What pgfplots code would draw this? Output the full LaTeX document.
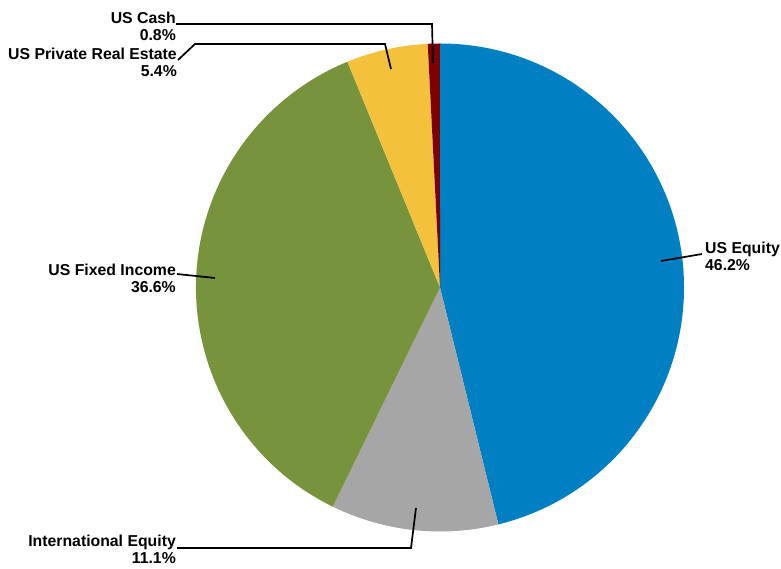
\documentclass[border=0pt]{standalone}
\usepackage{fontspec}
\setmainfont{Liberation Sans}
\usepackage{pgfplots}
\usepackage{pgfplotstable}
\pgfplotsset{compat=1.18}

\definecolor{slice0}{HTML}{0080C3} % US Equity
\definecolor{slice1}{HTML}{A6A6A6} % International Equity
\definecolor{slice2}{HTML}{77933C} % US Fixed Income
\definecolor{slice3}{HTML}{F3C13B} % US Private Real Estate
\definecolor{slice4}{HTML}{7F0000} % US Cash

\pgfplotstableread[col sep=comma]{
name,value
US Equity,46.2
International Equity,11.1
US Fixed Income,36.6
US Private Real Estate,5.4
US Cash,0.8
}\shares

\begin{document}
\begin{tikzpicture}[lab/.style={font=\fontsize{15.8bp}{17bp}\selectfont\bfseries, inner sep=0pt}]
% total and slice angles (clockwise from the top)
\def\total{0}
\pgfplotsforeachungrouped \i in {0,...,4}{%
  \pgfplotstablegetelem{\i}{value}\of\shares
  \pgfmathsetmacro\total{\total+\pgfplotsretval}%
}
\def\cur{90}
\pgfplotsforeachungrouped \i in {0,...,4}{%
  \pgfplotstablegetelem{\i}{value}\of\shares
  \pgfmathsetmacro\nxt{\cur-\pgfplotsretval/\total*360}%
  \expandafter\xdef\csname sA\i\endcsname{\cur}%
  \expandafter\xdef\csname eA\i\endcsname{\nxt}%
  \let\cur\nxt
}
\begin{axis}[
    width=781bp, height=569bp, scale only axis,
    xmin=0, xmax=781, ymin=0, ymax=569,
    hide axis, clip=false,
  ]
  \pgfplotsinvokeforeach{0,...,4}{
    \fill[slice#1] (axis cs:440,281.5) -- ++(\csname sA#1\endcsname:244bp)
      arc[start angle=\csname sA#1\endcsname, end angle=\csname eA#1\endcsname, radius=244bp] -- cycle;
  }
  % leader lines
  \addplot[black, line width=1.7bp, mark=none] coordinates {(661,308) (702,315)};
  \addplot[black, line width=1.7bp, mark=none] coordinates {(177,295) (215,291)};
  \addplot[black, line width=1.7bp, mark=none] coordinates {(177,21) (411,21) (416,61)};
  \addplot[black, line width=1.7bp, mark=none] coordinates {(176,545) (432,545) (433,506)};
  \addplot[black, line width=1.7bp, mark=none] coordinates {(178,509) (195,525) (385,525) (391,500)};
  % labels
  \node[lab, anchor=north west, align=left]  at (axis cs:705,327) {US Equity\\46.2\%};
  \node[lab, anchor=north east, align=right] at (axis cs:176,34)  {International Equity\\11.1\%};
  \node[lab, anchor=north east, align=right] at (axis cs:176,305) {US Fixed Income\\36.6\%};
  \node[lab, anchor=north east, align=right] at (axis cs:177,521) {US Private Real Estate\\5.4\%};
  \node[lab, anchor=north east, align=right] at (axis cs:176,557) {US Cash\\0.8\%};
  \coordinate (ll) at (rel axis cs:0,0);
  \coordinate (ur) at (rel axis cs:1,1);
\end{axis}
\pgfresetboundingbox
\path (ll) rectangle (ur);
\end{tikzpicture}
\end{document}
